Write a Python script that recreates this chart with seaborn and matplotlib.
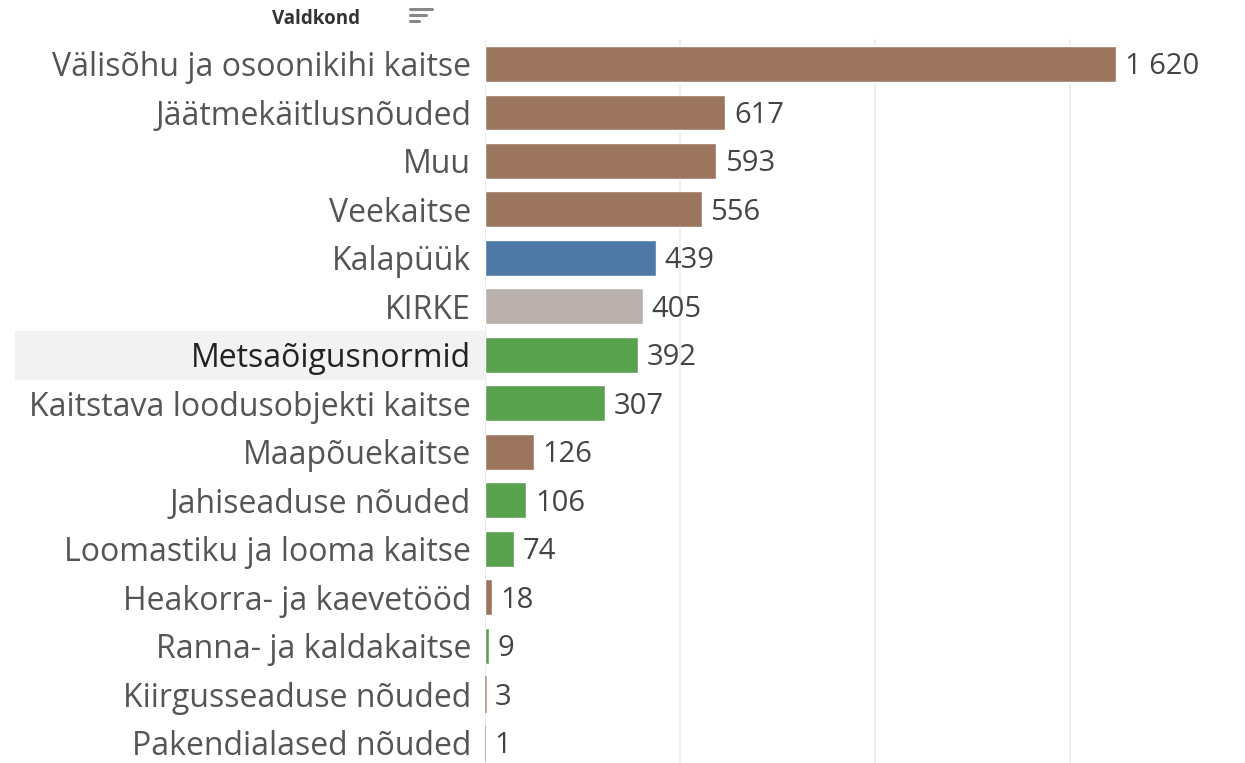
import matplotlib
matplotlib.use("Agg")
import matplotlib.pyplot as plt
import seaborn as sns
import pandas as pd
from matplotlib.patches import Rectangle
from matplotlib.lines import Line2D

categories = ["Välisõhu ja osoonikihi kaitse", "Jäätmekäitlusnõuded", "Muu", "Veekaitse",
              "Kalapüük", "KIRKE", "Metsaõigusnormid", "Kaitstava loodusobjekti kaitse",
              "Maapõuekaitse", "Jahiseaduse nõuded", "Loomastiku ja looma kaitse",
              "Heakorra- ja kaevetööd", "Ranna- ja kaldakaitse", "Kiirgusseaduse nõuded",
              "Pakendialased nõuded"]
values = [1620, 617, 593, 556, 439, 405, 392, 307, 126, 106, 74, 18, 9, 3, 1]
groups = ["brown", "brown", "brown", "brown", "blue", "gray", "green", "green",
          "brown", "green", "green", "brown", "green", "brown", "brown"]
palette = {"brown": "#9C755F", "blue": "#4E79A7", "gray": "#BAB0AC", "green": "#59A14F"}
value_labels = ["1 620", "617", "593", "556", "439", "405", "392", "307", "126", "106",
                "74", "18", "9", "3", "1"]
gridticks = [500, 1000, 1500]

df = pd.DataFrame({"cat": categories, "val": values, "grp": groups})

sns.set_theme(style="white")
plt.rcParams['font.family'] = ['Open Sans', 'DejaVu Sans']

W, H = 1245, 763
fig = plt.figure(figsize=(W / 100, H / 100), dpi=100)
ax = fig.add_axes([485 / W, 0, (W - 485) / W, 1 - 39 / H])

sns.barplot(data=df, y="cat", x="val", hue="grp", palette=palette, dodge=False,
            width=0.74, legend=False, ax=ax, order=categories, saturation=1)

ax.set_ylim(len(categories) - 1 + 0.42, -0.515)
ax.set_xlim(0, 1950)
for g in gridticks:
    ax.axvline(g, color="#EBEBEB", lw=1.2, zorder=0)
ax.axvline(0, color="#E6E6E6", lw=1.2, zorder=0)
for s in ax.spines.values():
    s.set_visible(False)
ax.set_xticks([])
ax.set_xlabel("")
ax.set_ylabel("")
ax.tick_params(axis="y", length=0, pad=10)
ax.set_yticks(range(len(categories)))
ax.set_yticklabels(categories, fontsize=23, color="#555555")
for t in ax.get_yticklabels():
    if t.get_text() == "Metsaõigusnormid":
        t.set_color("#222222")

# keep hairline-thin bars visible
for p in ax.patches:
    if p.get_width() < 6:
        p.set_edgecolor(p.get_facecolor())
        p.set_linewidth(0.6)
        if p.get_width() < 4:
            p.set_alpha(0.55)

for i, (v, lab) in enumerate(zip(values, value_labels)):
    ax.text(v + 22, i + 0.06, lab, va="center", ha="left", fontsize=21, color="#444444")

# highlight band behind selected label
idx = categories.index("Metsaõigusnormid")
y0 = ax.transData.transform((0, idx + 0.49))[1]
y1 = ax.transData.transform((0, idx - 0.49))[1]
fig.patches.append(Rectangle((15 / W, y0 / H), (484 - 15) / W, (y1 - y0) / H,
                             transform=fig.transFigure, color="#F2F2F2", zorder=-1))

# header
fig.text(272 / W, 1 - 19 / H, "Valdkond", fontsize=13.5, fontweight="bold",
         color="#333333", va="center", ha="left")
for k, (L, yy) in enumerate([(22, 8), (16, 14), (9, 20)]):
    fig.lines.append(Line2D([410 / W, (410 + L) / W], [1 - (yy + 1) / H, 1 - (yy + 1) / H],
                            transform=fig.transFigure, color="#888888", lw=2.2))

fig.savefig("out.png", dpi=100)
